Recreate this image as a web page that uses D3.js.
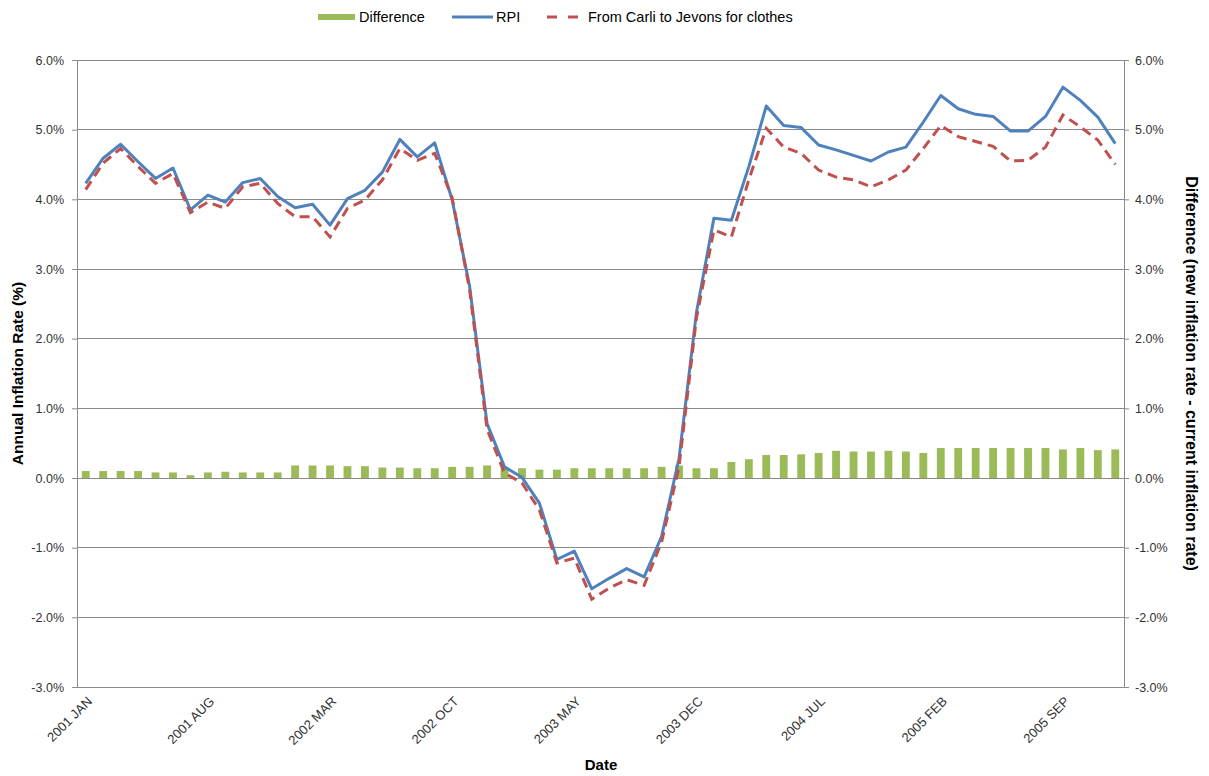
<!DOCTYPE html>
<html>
<head>
<meta charset="utf-8">
<script src="https://d3js.org/d3.v7.min.js"></script>
<style>
  body { margin: 0; background: #fff; }
  text { font-family: "Liberation Sans", Arial, sans-serif; }
</style>
</head>
<body>
<div id="chart"></div>
<script>
// 60 months, 2001 JAN .. 2005 DEC
var monthNames = ["JAN","FEB","MAR","APR","MAY","JUN","JUL","AUG","SEP","OCT","NOV","DEC"];
var years = [2001, 2002, 2003, 2004, 2005];
var months = [];
years.forEach(function(y){ monthNames.forEach(function(m){ months.push(y + " " + m); }); });

// RPI annual inflation (%)
var rpi = [4.23,4.59,4.79,4.54,4.30,4.45,3.85,4.06,3.96,4.24,4.30,4.04,
           3.88,3.93,3.63,4.01,4.13,4.39,4.86,4.61,4.81,3.99,2.75,0.78,
           0.16,0.01,-0.36,-1.17,-1.05,-1.59,-1.44,-1.30,-1.42,-0.84,0.28,2.38,
           3.73,3.70,4.47,5.34,5.06,5.03,4.78,4.71,4.63,4.55,4.68,4.75,
           5.11,5.49,5.30,5.22,5.19,4.98,4.98,5.19,5.61,5.42,5.18,4.80];

// From Carli to Jevons for clothes (%)
var carli = [4.14,4.52,4.73,4.47,4.23,4.37,3.81,3.96,3.87,4.18,4.23,3.94,
             3.75,3.75,3.46,3.87,3.99,4.28,4.73,4.56,4.66,4.02,2.70,0.70,
             0.07,-0.07,-0.46,-1.22,-1.15,-1.74,-1.58,-1.46,-1.54,-0.92,0.16,2.30,
             3.56,3.46,4.28,5.02,4.75,4.66,4.42,4.32,4.28,4.18,4.28,4.42,
             4.73,5.06,4.90,4.83,4.76,4.55,4.56,4.75,5.21,5.04,4.85,4.50];

// Difference (new - current), %
var diff = [0.10,0.10,0.10,0.10,0.08,0.08,0.04,0.08,0.09,0.08,0.08,0.08,
            0.18,0.18,0.18,0.17,0.17,0.15,0.15,0.14,0.14,0.16,0.16,0.18,
            0.15,0.14,0.12,0.12,0.14,0.14,0.14,0.14,0.14,0.16,0.18,0.14,
            0.14,0.23,0.27,0.33,0.33,0.34,0.36,0.39,0.38,0.38,0.39,0.38,
            0.36,0.43,0.43,0.43,0.43,0.43,0.43,0.43,0.41,0.43,0.40,0.41];

var yTicks = [-3,-2,-1,0,1,2,3,4,5,6];

var W = 1209, H = 776;
var m = {left: 77, right: 1124, top: 60, bottom: 687};

var svg = d3.select("#chart").append("svg")
    .attr("width", W)
    .attr("height", H);

var x = d3.scaleBand()
    .domain(months)
    .range([m.left, m.right])
    .paddingInner(0.55)
    .paddingOuter(0.275);

var y = d3.scaleLinear().domain([-3, 6]).range([m.bottom, m.top]);
var y2 = d3.scaleLinear().domain([-3, 6]).range([m.bottom, m.top]);

var cx = function(d){ return x(d) + x.bandwidth()/2; };

// grid
svg.append("g").selectAll("line")
    .data(yTicks).enter().append("line")
    .attr("x1", m.left).attr("x2", m.right)
    .attr("y1", function(d){ return y(d); })
    .attr("y2", function(d){ return y(d); })
    .attr("stroke", "#8a8a8a")
    .attr("stroke-width", 1)
    .attr("shape-rendering", "crispEdges");

// left axis
var yAxisL = svg.append("g")
    .attr("transform", "translate(" + m.left + ",0)")
    .call(d3.axisLeft(y).tickValues(yTicks).tickSize(5).tickPadding(8)
      .tickFormat(function(d){ return d.toFixed(1) + "%"; }));
// right axis
var yAxisR = svg.append("g")
    .attr("transform", "translate(" + m.right + ",0)")
    .call(d3.axisRight(y2).tickValues(yTicks).tickSize(5).tickPadding(6)
      .tickFormat(function(d){ return d.toFixed(1) + "%"; }));

[yAxisL, yAxisR].forEach(function(g){
  g.select(".domain").attr("stroke", "#8a8a8a");
  g.selectAll(".tick line").attr("stroke", "#8a8a8a");
  g.selectAll(".tick text").attr("fill", "#333")
    .style("font-size", "12.5px")
    .style("font-family", "'Liberation Sans', Arial, sans-serif");
});

// bottom axis line
svg.append("line")
    .attr("x1", m.left).attr("x2", m.right)
    .attr("y1", m.bottom).attr("y2", m.bottom)
    .attr("stroke", "#8a8a8a")
    .attr("shape-rendering", "crispEdges");

// x labels every 7 months
var xLabels = months.filter(function(d, i){ return i % 7 === 0; });
svg.append("g").selectAll("text")
    .data(xLabels).enter().append("text")
    .attr("transform", function(d){ return "translate(" + (cx(d) + 4) + "," + (m.bottom + 12) + ") rotate(-45)"; })
    .attr("text-anchor", "end")
    .attr("dy", "0.35em")
    .attr("fill", "#333")
    .style("font-size", "13px")
    .text(function(d){ return d; });

// bars
svg.append("g").selectAll("rect")
    .data(diff).enter().append("rect")
    .attr("x", function(d, i){ return x(months[i]); })
    .attr("width", x.bandwidth())
    .attr("y", function(d){ return y2(Math.max(0, d)); })
    .attr("height", function(d){ return Math.abs(y2(d) - y2(0)); })
    .attr("fill", "#9bbb59");

var line = function(arr){
  return d3.line()
    .x(function(d, i){ return cx(months[i]); })
    .y(function(d){ return y(d); })(arr);
};

svg.append("path")
    .attr("d", line(rpi))
    .attr("fill", "none")
    .attr("stroke", "#4f81bd")
    .attr("stroke-width", 3)
    .attr("stroke-linejoin", "round");

svg.append("path")
    .attr("d", line(carli))
    .attr("fill", "none")
    .attr("stroke", "#c0504d")
    .attr("stroke-width", 3)
    .attr("stroke-dasharray", "10,6");

// axis titles
svg.append("text")
    .attr("transform", "translate(23," + ((m.top + m.bottom)/2) + ") rotate(-90)")
    .attr("text-anchor", "middle")
    .style("font-size", "15.5px").style("font-weight", "bold")
    .text("Annual Inflation Rate (%)");

svg.append("text")
    .attr("transform", "translate(1186," + ((m.top + m.bottom)/2) + ") rotate(90)")
    .attr("text-anchor", "middle")
    .style("font-size", "16px").style("font-weight", "bold")
    .text("Difference (new inflation rate - current inflation rate)");

svg.append("text")
    .attr("x", 601).attr("y", 770)
    .attr("text-anchor", "middle")
    .style("font-size", "15px").style("font-weight", "bold")
    .text("Date");

// legend
var legend = svg.append("g").attr("transform", "translate(0,17)");
legend.append("rect").attr("x", 318).attr("y", -3).attr("width", 37).attr("height", 6).attr("fill", "#9bbb59");
legend.append("text").attr("x", 359).attr("y", 0).attr("dy", "0.35em").style("font-size", "14.5px").text("Difference");
legend.append("line").attr("x1", 452).attr("x2", 493).attr("y1", 0).attr("y2", 0)
    .attr("stroke", "#4f81bd").attr("stroke-width", 3);
legend.append("text").attr("x", 496).attr("y", 0).attr("dy", "0.35em").style("font-size", "14.5px").text("RPI");
legend.append("line").attr("x1", 547).attr("x2", 581).attr("y1", 0).attr("y2", 0)
    .attr("stroke", "#c0504d").attr("stroke-width", 3).attr("stroke-dasharray", "10,11");
legend.append("text").attr("x", 588).attr("y", 0).attr("dy", "0.35em").style("font-size", "14.5px").text("From Carli to Jevons for clothes");
</script>
</body>
</html>
